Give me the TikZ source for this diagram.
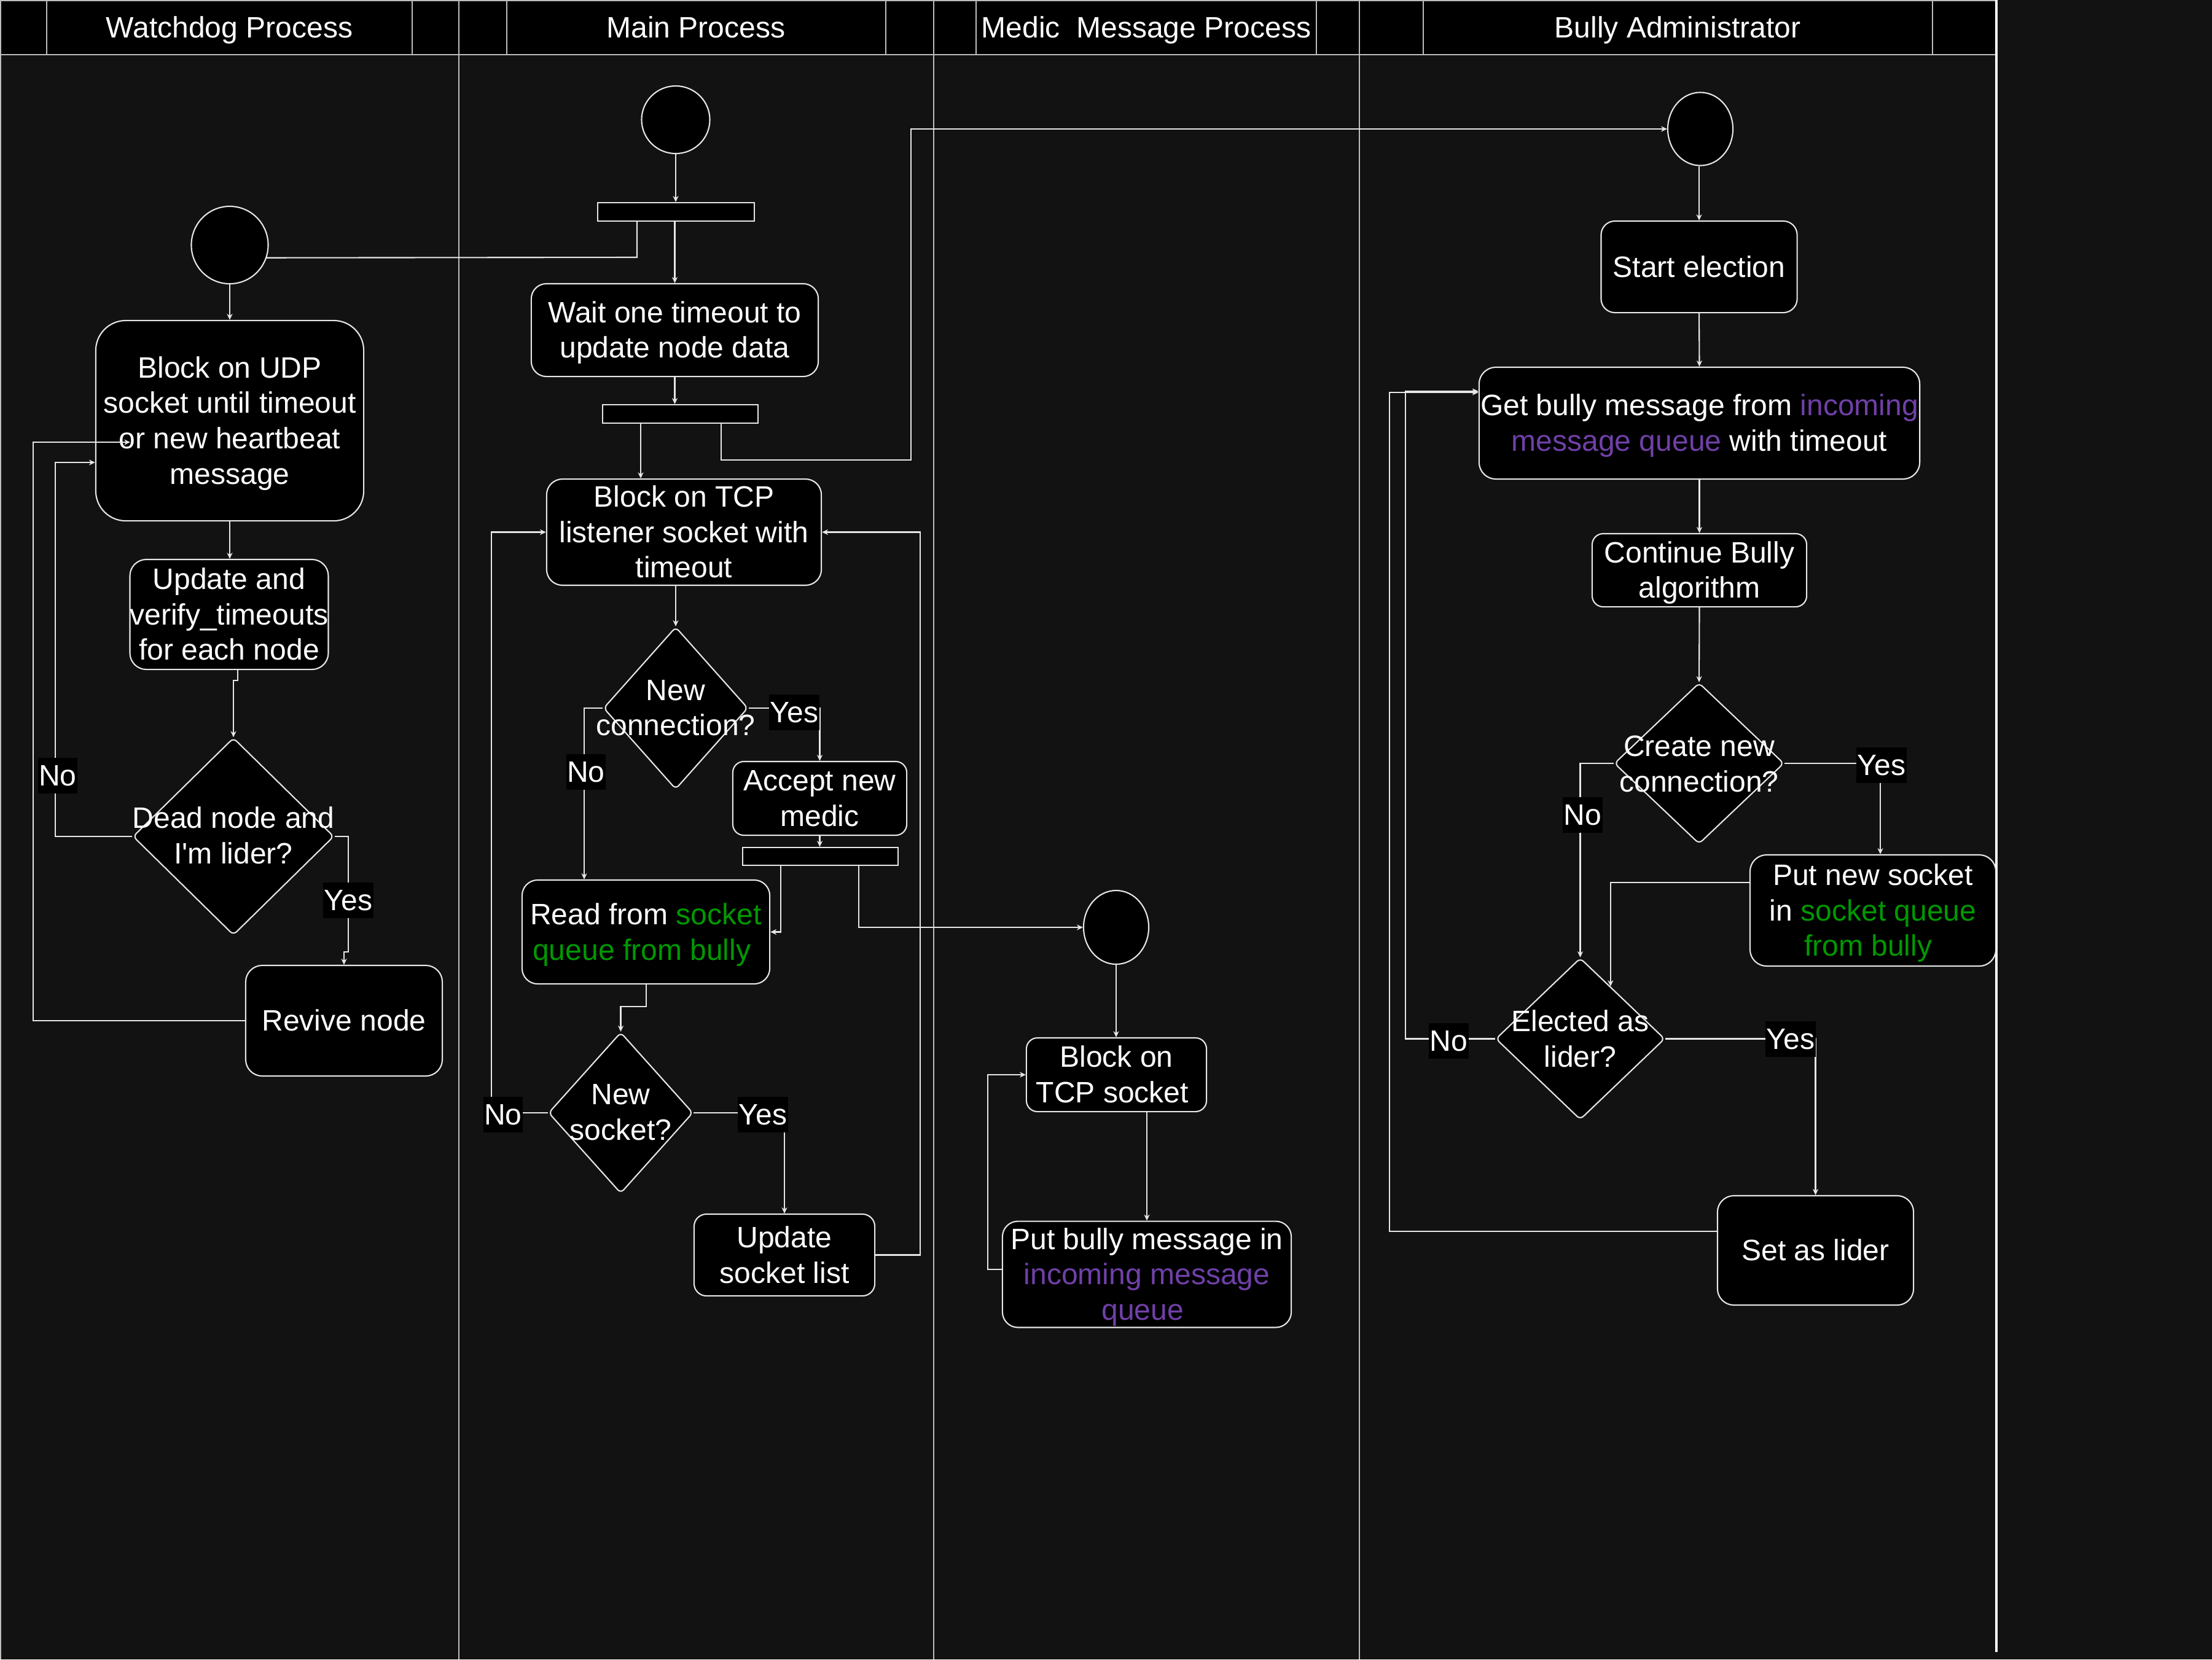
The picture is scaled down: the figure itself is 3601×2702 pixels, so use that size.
\documentclass[tikz,border=0pt]{standalone}
\usepackage{fontspec}
\setmainfont{Liberation Sans}[Ligatures=TeXOff]
\usetikzlibrary{shapes.geometric,arrows.meta}

\definecolor{canvas}{HTML}{121212}
\definecolor{ink}{HTML}{E6E6E6}
\definecolor{lanegray}{HTML}{BDBDBD}
\definecolor{qgreen}{HTML}{009900}
\definecolor{qpurple}{HTML}{7040A8}

\newcommand{\txtsize}{\fontsize{13.66pt}{16.39pt}\selectfont}
% line box of one text line: ascent part and descent part
\newcommand{\linebox}{\vrule height 12.93pt depth 3.46pt width 0pt\relax}
% text block whose first and last lines get full line boxes
\newcommand{\lines}[1]{\linebox#1\linebox}

\begin{document}
\begin{tikzpicture}[x=0.01cm, y=-0.01cm,
  every node/.style={font=\txtsize, text=white},
  state/.style={draw=ink, fill=black, line width=0.6pt, rounded corners=#1, align=center, inner sep=0pt},
  state/.default=6pt,
  startdot/.style={ellipse, draw=ink, fill=black, line width=0.6pt, inner sep=0pt},
  forkbar/.style={rectangle, draw=ink, fill=black, line width=0.6pt, inner sep=0pt},
  decision/.style={diamond, draw=ink, fill=black, line width=0.6pt, inner sep=0pt, rounded corners=2pt},
  dtext/.style={align=center, inner sep=0pt},
  title/.style={inner sep=0pt},
  branch/.style={fill=black, inner xsep=0.5pt, inner ysep=0pt},
  flow/.style={draw=ink, line width=0.6pt, -{Stealth[length=2.8pt,width=2.6pt,inset=0.9pt]}},
  link/.style={draw=ink, line width=0.6pt},
  lane/.style={draw=lanegray, line width=0.6pt},
]

% canvas
\fill[canvas] (0,0) rectangle (3601,2702);
\useasboundingbox (0,0) rectangle (3601,2702);

% swimlane headers
\fill[black] (0,0) rectangle (3250,89);
\draw[lane] (0,1) -- (3250,1);
\draw[lane] (0,89) -- (3250,89);
\foreach \hx in {76,671,825,1442,1589,2143,2317,3146}
  \draw[lane] (\hx,0) -- (\hx,89);
\foreach \lx in {1,747,1520,2213}
  \draw[lane] (\lx,0) -- (\lx,2702);
\draw[white, line width=1pt] (3250,0) -- (3250,2690);

\node[title] (hWd)    at (373.5,45) {\lines{Watchdog Process}};
\node[title] (hMain)  at (1133,45)  {\lines{Main Process}};
\node[title] (hMedic) at (1866,45)  {\lines{Medic\ \ Message Process}};
\node[title] (hBully) at (2731,45)  {\lines{Bully Administrator}};

% ---------- Watchdog Process ----------
\node[startdot, minimum width=1.25cm, minimum height=1.26cm] (wdS) at (374,399) {};
\node[state=13.9pt, minimum width=4.36cm, minimum height=3.26cm] (udp) at (374,685)
  {\lines{Block on UDP\\socket until timeout\\or new heartbeat\\message}};
\node[state=7.6pt, minimum width=3.20cm, minimum height=1.79cm] (upd) at (373,1000.5)
  {\lines{Update and\\verify\_timeouts\\for each node}};
\node[decision, minimum width=3.27cm, minimum height=3.21cm] (dead) at (380,1362) {};
\node[dtext] (deadT) at (380,1361) {\lines{Dead node and\\I'm lider?}};
\node[state=7.7pt, minimum width=3.20cm, minimum height=1.80cm] (revive) at (560,1662) {\lines{Revive node}};
\coordinate (udpEntry) at (212,720);

% ---------- Main Process ----------
\node[startdot, minimum width=1.11cm, minimum height=1.10cm] (mS) at (1100,195) {};
\node[forkbar, minimum width=2.55cm, minimum height=0.30cm] (bar1) at (1100.5,345) {};
\node[state=7pt, minimum width=4.67cm, minimum height=1.51cm] (wait) at (1098.5,537.5)
  {\lines{Wait one timeout to\\update node data}};
\node[forkbar, minimum width=2.53cm, minimum height=0.30cm] (bar2) at (1107.5,674) {};
\node[state=7.3pt, minimum width=4.47cm, minimum height=1.71cm] (tcp) at (1113.5,866.5)
  {\lines{Block on TCP\\listener socket with\\timeout}};
\node[decision, minimum width=2.35cm, minimum height=2.64cm] (newconn) at (1100,1153) {};
\node[dtext] (newconnT) at (1100,1152.5) {\lines{New\\connection?}};
\node[state=5.1pt, minimum width=2.83cm, minimum height=1.20cm] (accept) at (1334.5,1300)
  {\lines{Accept new\\medic}};
\node[forkbar, minimum width=2.53cm, minimum height=0.29cm] (bar3) at (1335.5,1394.5) {};
\node[state=7.2pt, minimum width=4.03cm, minimum height=1.69cm] (read) at (1051.5,1517.5)
  {\lines{Read from \textcolor{qgreen}{socket}\\\textcolor{qgreen}{queue from bully}\hspace*{0.28em}}};
\node[decision, minimum width=2.35cm, minimum height=2.62cm] (newsock) at (1010.5,1812) {};
\node[dtext] (newsockT) at (1010.5,1811) {\lines{New\\socket?}};
\node[state=5.7pt, minimum width=2.94cm, minimum height=1.33cm] (updsock) at (1277,2043.5)
  {\lines{Update\\socket list}};

% ---------- Medic Message Process ----------
\node[startdot, minimum width=1.06cm, minimum height=1.20cm] (mdS) at (1817,1510) {};
\node[state=5.1pt, minimum width=2.93cm, minimum height=1.20cm] (tcps) at (1817.5,1750)
  {\lines{Block on\\TCP socket\hspace*{0.28em}}};
\node[state=7.2pt, minimum width=4.70cm, minimum height=1.68cm] (putmsg) at (1867,2075)
  {\lines{Put bully message in\\\textcolor{qpurple}{incoming message}\\\textcolor{qpurple}{queue}\hspace*{0.28em}}};

% ---------- Bully Administrator ----------
\node[startdot, minimum width=1.06cm, minimum height=1.19cm] (bS) at (2768,210) {};
\node[state=6.4pt, minimum width=3.19cm, minimum height=1.49cm] (start) at (2766,434.5) {\lines{Start election}};
\node[state=7.8pt, minimum width=7.17cm, minimum height=1.82cm] (get) at (2766.5,689)
  {\lines{Get bully message from \textcolor{qpurple}{incoming}\\\textcolor{qpurple}{message queue} with timeout}};
\node[state=5.1pt, minimum width=3.49cm, minimum height=1.19cm] (cont) at (2766.5,928.5)
  {\lines{Continue Bully\\algorithm}};
\node[decision, minimum width=2.76cm, minimum height=2.62cm] (create) at (2766,1243) {};
\node[dtext] (createT) at (2766,1244) {\lines{Create new\\connection?}};
\node[state=7.7pt, minimum width=4.00cm, minimum height=1.81cm] (putsock) at (3049,1482.5)
  {\lines{Put new socket\\in \textcolor{qgreen}{socket queue}\\\textcolor{qgreen}{from bully}\hspace*{0.33em}}};
\node[decision, minimum width=2.75cm, minimum height=2.63cm] (elected) at (2572.5,1691.5) {};
\node[dtext] (electedT) at (2572.5,1692) {\lines{Elected as\\lider?}};
\node[state=7.6pt, minimum width=3.19cm, minimum height=1.78cm] (setlider) at (2955.5,2036) {\lines{Set as lider}};

% ---------- connectors: Watchdog ----------
\draw[link] (bar1.south -| 1037,0) -- (1037,419) -- (wdS.-19);
\draw[flow] (wdS.south) -- (udp.north);
\draw[flow] (udp.south) -- (udp.south |- upd.north);
\draw[flow] (upd.south -| 387,0) -- (387,1108) -- (380,1108) -- (dead.north);
\draw[flow] (dead.west) -- (90,1362) -- (90,753) -- (udp.west |- 0,753);
\draw[flow] (dead.east) -- (567,1362) -- (567,1550) -- (560,1550) -- (revive.north);
\draw[flow] (revive.west) -- (54,1662) -- (54,720) -- (udpEntry);

% ---------- connectors: Main ----------
\draw[flow] (mS.south) -- (mS.south |- bar1.north);
\draw[flow] (bar1.south -| wait.north) -- (wait.north);
\draw[flow] (wait.south) -- (wait.south |- bar2.north);
\draw[flow] (bar2.south -| 1043,0) -- (tcp.north -| 1043,0);
\draw[flow] (bar2.south -| 1174,0) -- (1174,749) -- (1483,749) -- (1483,210) -- (bS.west);
\draw[flow] (newsock.west) -- (newsock.west -| 800,0) |- (tcp.west);
\draw[flow] (updsock.east) -- (updsock.east -| 1498,0) |- (tcp.east);
\draw[flow] (tcp.south -| newconn.north) -- (newconn.north);
\draw[flow] (newconn.east) -| (accept.north);
\draw[flow] (newconn.west) -| (read.north -| 951,0);
\draw[flow] (accept.south) -- (accept.south |- bar3.north);
\draw[flow] (bar3.south -| 1271,0) |- (read.east);
\draw[flow] (bar3.south -| 1398,0) |- (mdS.west);
\draw[flow] (read.south -| 1052,0) -- (1052,1639) -| (newsock.north);
\draw[flow] (newsock.east) -| (updsock.north);

% ---------- connectors: Medic ----------
\draw[flow] (mdS.south) -- (mdS.south |- tcps.north);
\draw[flow] (tcps.south -| putmsg.north) -- (putmsg.north);
\draw[flow] (putmsg.west |- 0,2067) -- (1608,2067) |- (tcps.west);

% ---------- connectors: Bully ----------
\draw[flow] (start.north |- bS.south) -- (start.north);
\draw[flow] (start.south) -- (get.north);
\draw[flow] (get.south) -- (cont.north);
\draw[flow] (cont.south) -- (create.north);
\draw[flow] (create.east) -| (putsock.north -| 3061,0);
\draw[flow] (create.west) -| (elected.north);
\draw[flow] (putsock.west |- 0,1437) -| (elected.60);
\draw[flow] (elected.east) -| (setlider.north);
\draw[flow] (elected.west) -| (2288,637) -- (get.west |- 0,637);
\draw[flow] (setlider.west |- 0,2005) -- (2262,2005) -- (2262,639) -- (get.west |- 0,639);

% ---------- branch labels ----------
\node[branch] (wdNo)  at (94,1263)   {\lines{No}};
\node[branch] (wdYes) at (567,1466)  {\lines{Yes}};
\node[branch] (ncYes) at (1293,1160) {\lines{Yes}};
\node[branch] (ncNo)  at (954,1257)  {\lines{No}};
\node[branch] (nsNo)  at (819,1815)  {\lines{No}};
\node[branch] (nsYes) at (1242,1815) {\lines{Yes}};
\node[branch] (crYes) at (3063,1246) {\lines{Yes}};
\node[branch] (crNo)  at (2576,1327) {\lines{No}};
\node[branch] (elYes) at (2915,1692) {\lines{Yes}};
\node[branch] (elNo)  at (2358,1695) {\lines{No}};

\end{tikzpicture}
\end{document}
